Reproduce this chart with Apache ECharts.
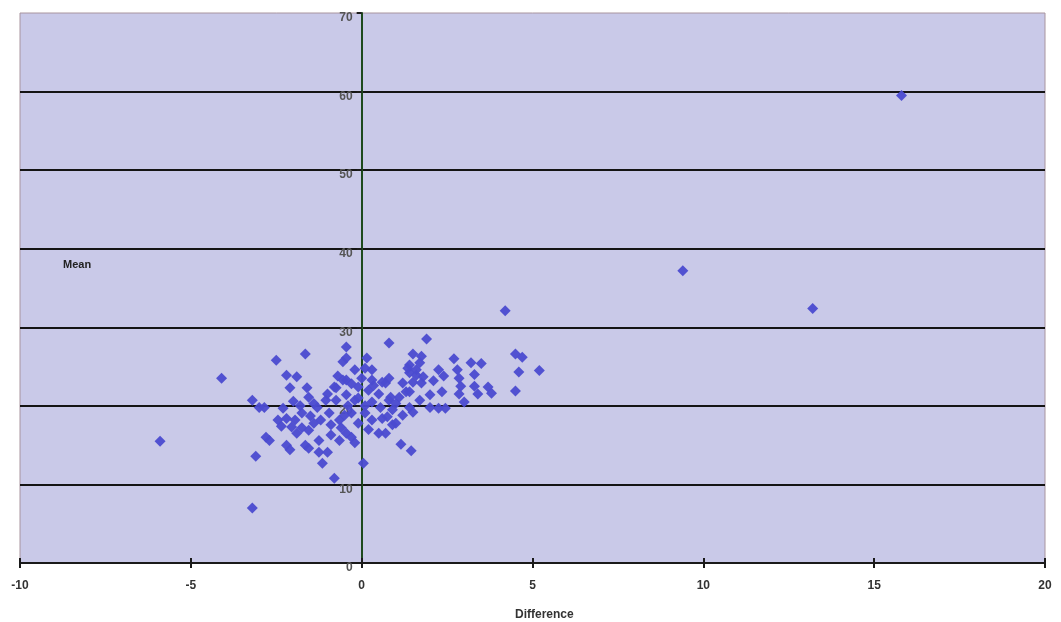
<!DOCTYPE html>
<html>
<head>
<meta charset="utf-8">
<script src="https://cdn.jsdelivr.net/npm/echarts@6/dist/echarts.min.js"></script>
<style>
  html, body { margin: 0; padding: 0; background: #fff; }
  #chart { width: 1061px; height: 622px; }
</style>
</head>
<body>
<div id="chart"></div>
<script>
// differences (x) and means (y)
var diffs = [
  15.8, 9.4, 13.2, 4.2, -5.9, -3.2, -4.1,
  5.2, 4.5, 4.7, 4.6, 4.5, 3.5, 3.2, 2.7, 1.9, 0.8, 1.5, 1.75, 1.4, 1.4,
  1.6, 1.8, 1.5, 1.75, 2.25, 2.4, 2.8, 2.85, 3.3, 2.9, 3.3, 3.7, 3.8, 3.4,
  2.85, 2.35, 3.0, 2.0, 1.7, 1.3, 1.1, 1.4, 1.5, 2.0, 2.25, 2.45, 0.7, 0.8,
  0.6, 0.9, 0.7, 1.15, 1.45, 1.0, 0.5,
  -2.5, -1.65, -0.45, -0.55, -0.45, 0.15, -3.2, -3.0, -2.85, -2.8, -2.7, -3.1,
  -2.2, -1.9, -2.1, -1.6, -1.55, -2.3, -2.45, -2.2, -2.35, -1.95, -1.75, -2.05,
  -1.75, -1.55, -2.2, -2.1, -1.65, -1.55, -1.25, -1.25, -1.0, -1.15, -0.8, 0.05,
  -1.3, -1.05, -0.95, -1.2, -0.9, -0.65, -0.6, -0.65, -0.3, -0.2, -0.45, -0.75,
  -0.45, -0.75, -0.45, -0.2, 0.3, 0.0, -0.1, 0.2, -0.2, 0.3, 0.1, -0.3, -0.1,
  0.3, 0.6, 0.85, 0.9, 0.75, 0.35, -0.8, -0.55, 0.3, 0.8, 1.2, 1.35, 1.6, 1.4, 0.1,
  -0.1, 0.1, -0.4, -0.5, -1.0, -1.4, -1.8, -1.9, -1.4, -0.3, 0.5, 0.55, 1.0, 1.2,
  -0.9, -1.5, 0.2, -2.0, -0.7, 1.7, 2.1
];
var means = [
  59.5, 37.2, 32.4, 32.1, 15.5, 7.0, 23.5,
  24.5, 26.6, 26.2, 24.3, 21.9, 25.4, 25.5, 26.0, 28.5, 28.0, 26.6, 26.3, 25.2, 24.2,
  24.6, 23.7, 23.0, 22.9, 24.6, 23.8, 24.6, 23.5, 24.0, 22.5, 22.5, 22.4, 21.6, 21.5,
  21.5, 21.8, 20.5, 21.4, 20.7, 21.8, 21.1, 19.8, 19.2, 19.8, 19.7, 19.7, 22.9, 20.7,
  18.4, 17.6, 16.5, 15.1, 14.3, 17.8, 16.5,
  25.8, 26.6, 27.5, 25.6, 26.1, 26.1, 20.7, 19.8, 19.8, 16.0, 15.6, 13.6,
  23.9, 23.7, 22.3, 22.3, 21.1, 19.7, 18.2, 18.4, 17.4, 18.2, 19.1, 17.3,
  17.2, 16.9, 15.0, 14.4, 15.0, 14.6, 15.6, 14.1, 14.1, 12.7, 10.8, 12.7,
  19.8, 20.7, 19.1, 18.2, 17.6, 18.2, 17.2, 15.6, 16.0, 15.3, 16.5, 20.7,
  21.4, 22.3, 23.3, 24.6, 24.6, 23.5, 22.4, 22.0, 20.7, 20.5, 19.1, 19.1, 17.8,
  18.2, 23.0, 21.1, 19.5, 18.6, 22.6, 22.4, 23.3, 23.3, 23.5, 22.9, 24.8, 23.9, 21.8, 24.8,
  21.0, 20.0, 20.0, 18.8, 21.5, 20.3, 20.0, 16.5, 17.8, 22.8, 21.5, 19.8, 20.3, 18.8,
  16.3, 18.7, 17.0, 20.6, 23.8, 25.5, 23.2
];
var xTicks = { min: -10, max: 20, step: 5 };
var yTicks = { min: 0, max: 70, step: 10 };

var chart = echarts.init(document.getElementById('chart'));

var points = [];
for (var i = 0; i < diffs.length; i++) {
    points.push([diffs[i], means[i]]);
}

var gridLeft = 20, gridRight = 16, gridTop = 13, gridBottom = 59;
var gridW = 1061 - gridLeft - gridRight;
var gridH = 622 - gridTop - gridBottom;
// the mean axis crosses at difference = 0
var yAxisShift = gridW * (0 - xTicks.min) / (xTicks.max - xTicks.min);

var labelFont = { fontFamily: 'Liberation Sans', fontWeight: 'bold', fontSize: 12 };

var option = {
    backgroundColor: '#ffffff',
    animation: false,
    title: [{
        text: 'Mean',
        left: 58,
        top: 254,
        textStyle: { fontFamily: 'Liberation Sans', fontWeight: 'bold', fontSize: 11, color: '#222' }
    }, {
        text: 'Difference',
        left: 510,
        top: 604,
        textStyle: { fontFamily: 'Liberation Sans', fontWeight: 'bold', fontSize: 12, color: '#333' }
    }],
    grid: {
        left: gridLeft,
        right: gridRight,
        top: gridTop,
        bottom: gridBottom,
        outerBoundsMode: 'none',
        containLabel: false,
        show: true,
        backgroundColor: '#c9c9e8',
        borderColor: '#a8949e',
        borderWidth: 1
    },
    xAxis: [{
        type: 'value',
        min: xTicks.min,
        max: xTicks.max,
        interval: xTicks.step,
        position: 'bottom',
        axisLine: { onZero: false, lineStyle: { color: '#1a1a1a', width: 2 } },
        axisTick: { show: true, length: 5, lineStyle: { color: '#1a1a1a', width: 2 } },
        axisLabel: Object.assign({ color: '#333', margin: 17 }, labelFont),
        splitLine: { show: false }
    }, {
        // only draws the inner half of the tick marks on the bottom line
        type: 'value',
        min: xTicks.min,
        max: xTicks.max,
        interval: xTicks.step,
        position: 'top',
        offset: -gridH,
        axisLine: { show: false },
        axisTick: { show: true, length: 5, lineStyle: { color: '#1a1a1a', width: 2 } },
        axisLabel: { show: false },
        splitLine: { show: false }
    }],
    yAxis: {
        type: 'value',
        min: yTicks.min,
        max: yTicks.max,
        interval: yTicks.step,
        position: 'left',
        offset: -yAxisShift,
        axisLine: { onZero: false, lineStyle: { color: '#1d4a1d', width: 2 } },
        axisTick: { show: true, length: 5, lineStyle: { color: '#1a1a1a', width: 2 } },
        axisLabel: Object.assign({ color: '#555', margin: 9, verticalAlign: 'top', lineHeight: 10 }, labelFont),
        splitLine: { show: true, showMinLine: false, showMaxLine: false, lineStyle: { color: '#141414', width: 2 } }
    },
    series: [{
        type: 'scatter',
        xAxisIndex: 0,
        data: points,
        symbol: 'diamond',
        symbolSize: 11,
        itemStyle: { color: '#4b4bd0', opacity: 0.95 }
    }]
};
chart.setOption(option);
</script>
</body>
</html>
